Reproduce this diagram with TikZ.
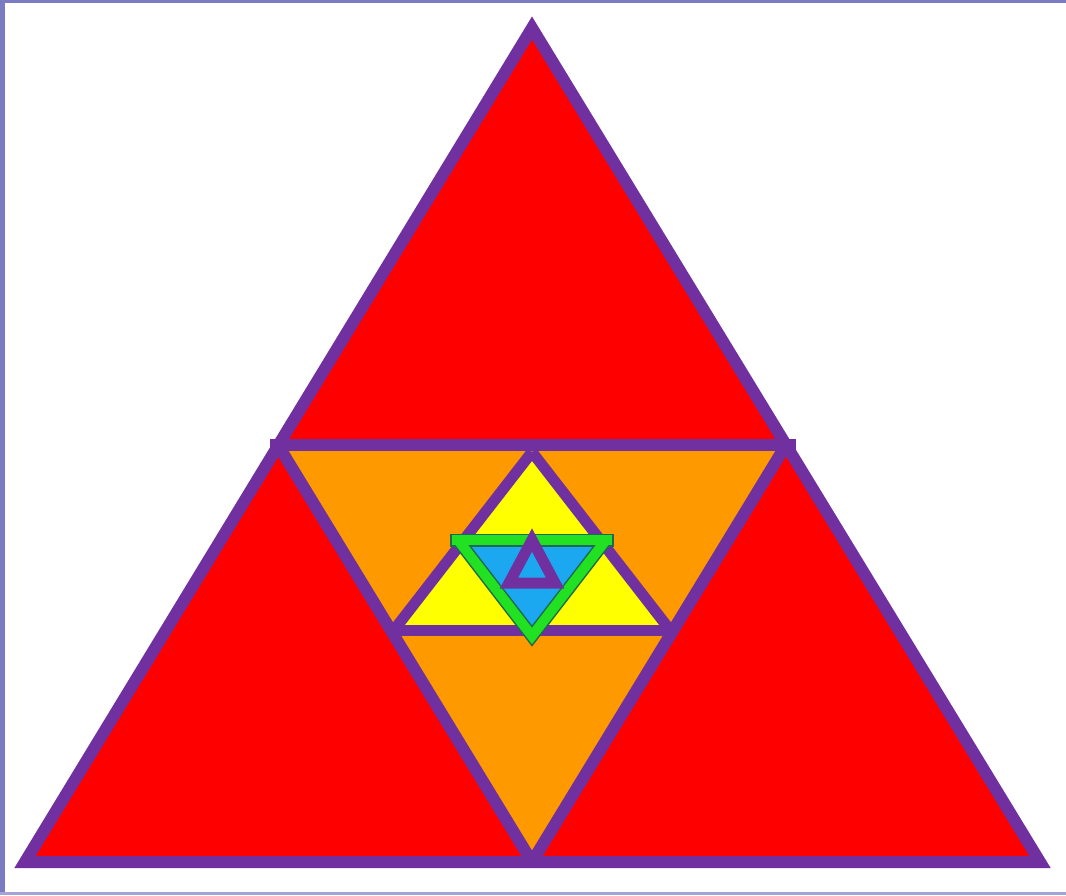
\documentclass[tikz,border=0pt]{standalone}
\begin{document}
\begin{tikzpicture}[x=1pt,y=-1pt,
  pline/.style={draw=lilac,line width=12pt,line join=miter,miter limit=10},
  sline/.style={draw=lilac,line width=11pt,line join=miter,miter limit=10}]
\definecolor{lilac}{HTML}{7030A0}
\definecolor{framec}{HTML}{7B7BC4}
\definecolor{redf}{HTML}{FF0000}
\definecolor{orangef}{HTML}{FF9900}
\definecolor{yellowf}{HTML}{FFFF00}
\definecolor{bluef}{HTML}{1CA8F0}
\definecolor{greenf}{HTML}{22E022}
\definecolor{darkg}{HTML}{1F6A50}
\useasboundingbox (0,0) rectangle (1066,895);
\fill[white] (0,0) rectangle (1066,895);
% frame
\fill[framec] (0,0) rectangle (1066,3);
\fill[framec] (0,0) rectangle (5,895);
\fill[framec!70] (0,892) rectangle (1066,895);
% coordinates
\coordinate (A) at (532,28);
\coordinate (B) at (25,862);
\coordinate (C) at (1040,862);
\coordinate (L) at (278,445);
\coordinate (R) at (786,445);
\coordinate (M) at (532,862);
\coordinate (Ya) at (532,452);
\coordinate (Yl) at (394,630);
\coordinate (Yr) at (670,630);
\coordinate (Gl) at (458,540);
\coordinate (Gr) at (606,540);
\coordinate (Gb) at (532,636);
\coordinate (Pa) at (532,540);
\coordinate (Pl) at (509,583);
\coordinate (Pr) at (555,583);
% fills
\fill[redf] (A) -- (B) -- (C) -- cycle;
\fill[orangef] (L) -- (R) -- (M) -- cycle;
\fill[yellowf] (Ya) -- (Yl) -- (Yr) -- cycle;
% big outlines
\draw[pline,line cap=butt] (L) -- (M);
\draw[pline,line cap=butt] (R) -- (M);
\draw[pline] (A) -- (B) -- (C) -- cycle;
\draw[pline] (270,445) -- (796,445);
% yellow outline
\draw[sline] (Ya) -- (Yl);
\draw[sline] (Ya) -- (Yr);
\draw[sline] (392,630) -- (672,630);
% green triangle
\fill[bluef] (Gl) -- (Gr) -- (Gb) -- cycle;
\draw[darkg,line width=13pt,line join=miter] (Gl) -- (Gb) -- (Gr);
\draw[darkg,line width=13pt] (450,540) -- (614,540);
\draw[greenf,line width=10pt,line join=miter] (Gl) -- (Gb) -- (Gr);
\draw[greenf,line width=10pt] (452,540) -- (612,540);
% small purple triangle
\draw[lilac,line width=11pt,line join=miter,miter limit=10] (Pa) -- (Pl) -- (Pr) -- cycle;
\end{tikzpicture}
\end{document}
